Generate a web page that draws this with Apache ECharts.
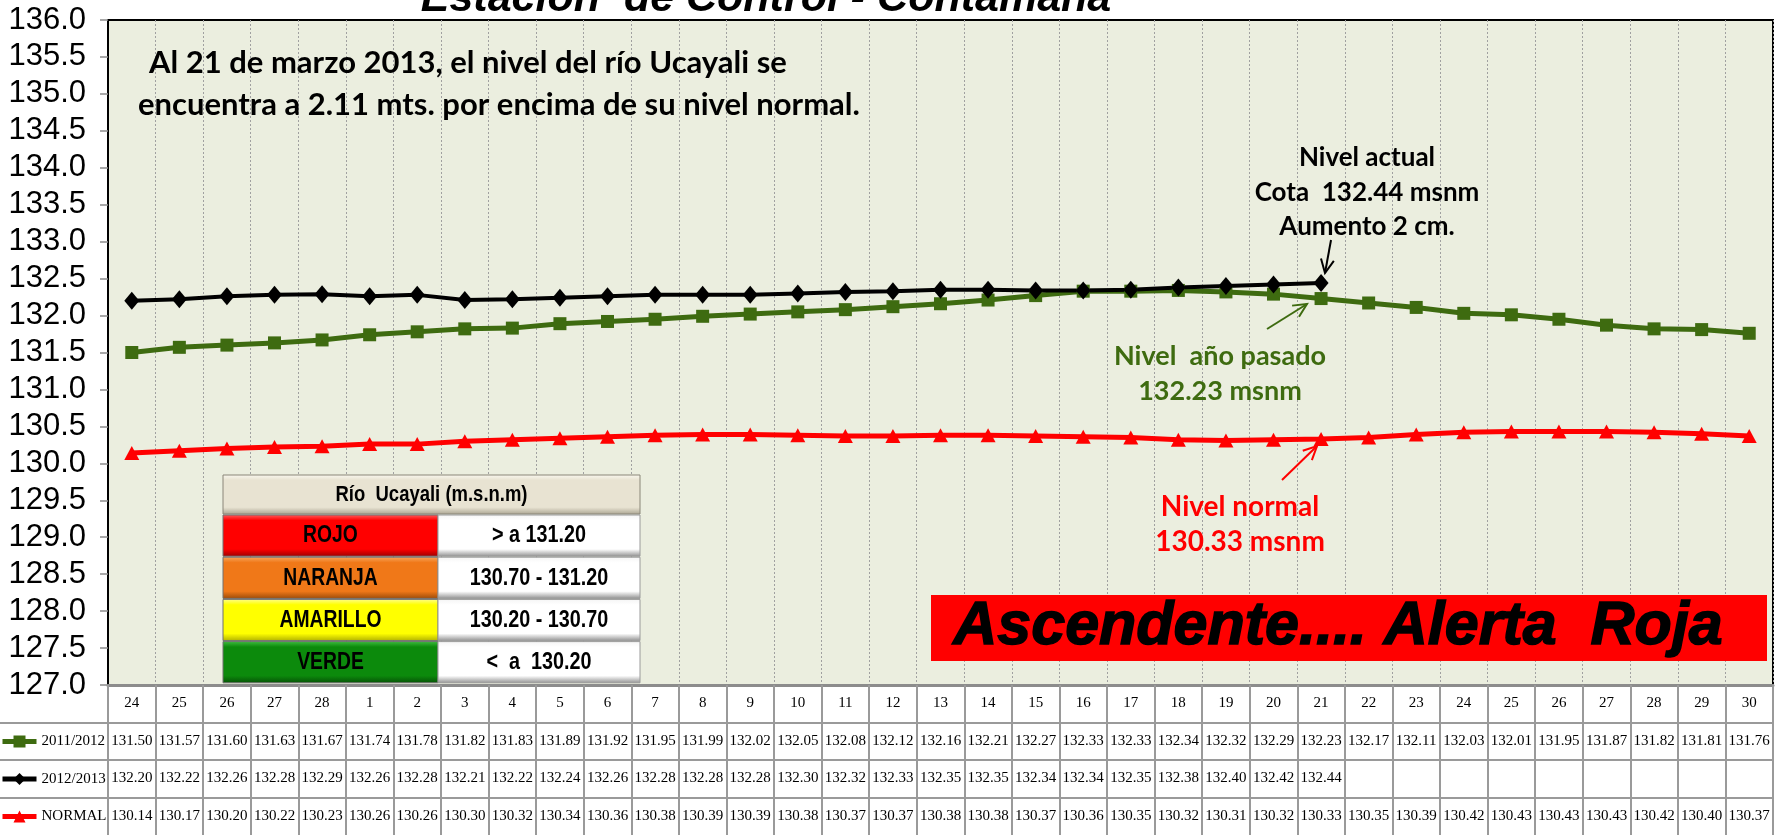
<!DOCTYPE html>
<html>
<head>
<meta charset="utf-8">
<script src="https://cdn.jsdelivr.net/npm/echarts@6/dist/echarts.min.js"></script>
<style>
html, body { margin: 0; padding: 0; background: #fff; }
#chart { width: 1776px; height: 835px; }
</style>
</head>
<body>
<div id="chart"></div>
<script>
// dias (24-28 feb, 1-30 mar)
var days = ['24','25','26','27','28','1','2','3','4','5','6','7','8','9','10','11','12','13','14','15',
            '16','17','18','19','20','21','22','23','24','25','26','27','28','29','30'];

var nivel2012 = [131.50,131.57,131.60,131.63,131.67,131.74,131.78,131.82,131.83,131.89,131.92,131.95,
                 131.99,132.02,132.05,132.08,132.12,132.16,132.21,132.27,132.33,132.33,132.34,132.32,
                 132.29,132.23,132.17,132.11,132.03,132.01,131.95,131.87,131.82,131.81,131.76];

var nivel2013 = [132.20,132.22,132.26,132.28,132.29,132.26,132.28,132.21,132.22,132.24,132.26,132.28,
                 132.28,132.28,132.30,132.32,132.33,132.35,132.35,132.34,132.34,132.35,132.38,132.40,
                 132.42,132.44];

var nivelNormal = [130.14,130.17,130.20,130.22,130.23,130.26,130.26,130.30,130.32,130.34,130.36,130.38,
                   130.39,130.39,130.38,130.37,130.37,130.38,130.38,130.37,130.36,130.35,130.32,130.31,
                   130.32,130.33,130.35,130.39,130.42,130.43,130.43,130.43,130.42,130.40,130.37];

var seriesNames = ['2011/2012', '2012/2013', 'NORMAL'];

var alertLevels = ['ROJO', 'NARANJA', 'AMARILLO', 'VERDE'];
var alertRanges = ['> a 131.20', '130.70 - 131.20', '130.20 - 130.70', '<  a  130.20'];

var greenC = '#3E6B10';
var redC = '#FF0000';
var serif = '"Liberation Serif", "Times New Roman", serif';
var sans = '"Liberation Sans", Arial, sans-serif';
var calibri = 'Lato, "Open Sans", sans-serif';

var chart = echarts.init(document.getElementById('chart'));

// ejes x: dias + una fila de tabla por serie
var xAxes = [{
    type: 'category',
    data: days,
    boundaryGap: true,
    position: 'bottom',
    axisLine: { lineStyle: { color: '#8c8c8c', width: 3 } },
    axisTick: { show: true, interval: 0, length: 150, lineStyle: { color: '#9a9a9a', width: 2 } },
    axisLabel: { interval: 0, margin: 11, fontFamily: serif, fontSize: 15, color: '#000' },
    splitLine: { show: true, interval: 0, lineStyle: { color: '#a0a0a0', type: [2, 2], width: 1 } }
}];
[nivel2012, nivel2013, nivelNormal].forEach(function (arr, k) {
    xAxes.push({
        type: 'category',
        data: days,
        position: 'bottom',
        offset: [38, 75, 113][k],
        axisLine: { lineStyle: { color: '#9a9a9a', width: 2 } },
        axisTick: { show: false },
        axisLabel: {
            interval: 0, margin: 11, fontFamily: serif, fontSize: 15, color: '#000',
            formatter: function (v, i) { return arr[i] == null ? '' : arr[i].toFixed(2); }
        },
        splitLine: { show: false }
    });
});

function arrow(x1, y1, x2, y2, color) {
    var dx = x2 - x1, dy = y2 - y1, len = Math.sqrt(dx * dx + dy * dy);
    var ux = -dx / len, uy = -dy / len, a = 0.45, h = 15;
    var p1 = [x2 + h * (ux * Math.cos(a) - uy * Math.sin(a)), y2 + h * (ux * Math.sin(a) + uy * Math.cos(a))];
    var p2 = [x2 + h * (ux * Math.cos(a) + uy * Math.sin(a)), y2 + h * (-ux * Math.sin(a) + uy * Math.cos(a))];
    return [
        { type: 'line', shape: { x1: x1, y1: y1, x2: x2, y2: y2 }, style: { stroke: color, lineWidth: 2 }, z: 20 },
        { type: 'polyline', shape: { points: [p1, [x2, y2], p2] }, style: { stroke: color, lineWidth: 2, fill: null }, z: 20 }
    ];
}

function label(txt, x, y, size, color, extra) {
    var st = { text: txt, x: 0, y: 0, fill: color, fontSize: size, fontFamily: calibri, fontWeight: 'bold',
               align: 'center', verticalAlign: 'middle' };
    if (extra) for (var k in extra) st[k] = extra[k];
    return { type: 'text', x: x, y: y, style: st, z: 20 };
}

function bevel(base, light, dark) {
    return new echarts.graphic.LinearGradient(0, 0, 0, 1, [
        { offset: 0, color: light }, { offset: 0.14, color: base },
        { offset: 0.82, color: base }, { offset: 1, color: dark }
    ]);
}

// tabla de alertas
var tblX = 223, tblY = 475, headH = 39, rowH = 42.2, leftW = 215, rightW = 202;
var alertFill = [
    bevel('#FF0000', '#FF6060', '#9A0000'),
    bevel('#F07818', '#F8A860', '#9A4A08'),
    bevel('#FFFF00', '#FFFF90', '#B0B000'),
    bevel('#0C8A0C', '#40C040', '#065006')
];
var alertGraphics = [
    { type: 'rect', shape: { x: tblX, y: tblY, width: leftW + rightW, height: headH },
      style: { fill: bevel('#E8E3D2', '#FAF8F0', '#A9A390'), stroke: '#8a8678', lineWidth: 1 }, z: 15 },
    { type: 'text', x: tblX + (leftW + rightW) / 2, y: tblY + headH / 2, scaleX: 0.84,
      style: { text: 'Río  Ucayali (m.s.n.m)', fill: '#000', fontSize: 22, fontFamily: sans, fontWeight: 'bold',
               align: 'center', verticalAlign: 'middle' }, z: 16 }
];
alertLevels.forEach(function (name, i) {
    var y = tblY + headH + 1 + i * rowH;
    alertGraphics.push(
        { type: 'rect', shape: { x: tblX, y: y, width: leftW, height: rowH - 1 },
          style: { fill: alertFill[i], stroke: '#707070', lineWidth: 1 }, z: 15 },
        { type: 'rect', shape: { x: tblX + leftW, y: y, width: rightW, height: rowH - 1 },
          style: { fill: bevel('#FFFFFF', '#F4F4F4', '#8E8E8E'), stroke: '#9a9a9a', lineWidth: 1 }, z: 15 },
        { type: 'text', x: tblX + leftW / 2, y: y + rowH / 2, scaleX: 0.84,
          style: { text: name, fill: '#000', fontSize: 23, fontFamily: sans, fontWeight: 'bold',
                   align: 'center', verticalAlign: 'middle' }, z: 16 },
        { type: 'text', x: tblX + leftW + rightW / 2, y: y + rowH / 2, scaleX: 0.86,
          style: { text: alertRanges[i], fill: '#000', fontSize: 23, fontFamily: sans, fontWeight: 'bold',
                   align: 'center', verticalAlign: 'middle' }, z: 16 }
    );
});

var graphics = [
    { type: 'text', x: 766, y: -1,
      style: { text: 'Estación  de Control - Contamana', fill: '#000', fontSize: 43, fontFamily: sans,
               fontWeight: 'bold', fontStyle: 'italic', align: 'center', verticalAlign: 'middle' }, z: 20 },
    label('Al 21 de marzo 2013, el nivel del río Ucayali se', 149, 63, 31, '#000', { align: 'left' }),
    label('encuentra a 2.11 mts. por encima de su nivel normal.', 138, 105, 31, '#000', { align: 'left' }),
    label('Nivel actual', 1367, 158, 26, '#000'),
    label('Cota  132.44 msnm', 1367, 193, 26, '#000'),
    label('Aumento 2 cm.', 1367, 227, 26, '#000'),
    label('Nivel  año pasado', 1220, 356, 27, greenC),
    label('132.23 msnm', 1220, 391, 27, greenC),
    label('Nivel normal', 1240, 507, 28, redC),
    label('130.33 msnm', 1240, 542, 28, redC),
    { type: 'rect', shape: { x: 931, y: 595, width: 836, height: 66 }, style: { fill: '#FF0000' }, z: 18 },
    { type: 'text', x: 1338, y: 627,
      style: { text: 'Ascendente.... Alerta  Roja', fill: '#000', fontSize: 61, fontFamily: sans,
               fontWeight: 'bold', fontStyle: 'italic', stroke: '#000', lineWidth: 1.5,
               align: 'center', verticalAlign: 'middle' }, z: 19 }
];
graphics = graphics.concat(arrow(1331, 240, 1325, 273, '#000'));
graphics = graphics.concat(arrow(1267, 329, 1307, 304, greenC));
graphics = graphics.concat(arrow(1282, 480, 1317, 446, redC));
graphics = graphics.concat(alertGraphics);
// bordes de la columna de leyenda
[723, 760, 798].forEach(function (y) {
    graphics.push({ type: 'line', shape: { x1: 0, y1: y, x2: 108, y2: y }, style: { stroke: '#9a9a9a', lineWidth: 2 }, z: 5 });
});

var option = {
    animation: false,
    backgroundColor: '#fff',
    grid: {
        left: 108, right: 3, top: 20, bottom: 150,
        show: true, backgroundColor: '#EBEEDF', borderColor: '#000', borderWidth: 2
    },
    legend: {
        data: seriesNames,
        orient: 'vertical',
        left: 0, top: 734,
        itemGap: 22.5, itemWidth: 34, itemHeight: 15,
        padding: 0,
        selectedMode: false,
        lineStyle: { width: 5 },
        textStyle: { fontFamily: serif, fontSize: 15, color: '#000' }
    },
    xAxis: xAxes,
    yAxis: {
        type: 'value', min: 127, max: 136, interval: 0.5,
        axisLine: { show: true, lineStyle: { color: '#000', width: 2 } },
        axisTick: { show: true, length: 8, lineStyle: { color: '#8c8c8c', width: 1.5 } },
        axisLabel: { margin: 22, fontFamily: sans, fontSize: 31, color: '#000',
                     formatter: function (v) { return v.toFixed(1); } },
        splitLine: { show: false }
    },
    series: [
        { name: seriesNames[0], type: 'line', data: nivel2012, symbol: 'rect', symbolSize: 13,
          lineStyle: { color: greenC, width: 5 }, itemStyle: { color: greenC } },
        { name: seriesNames[1], type: 'line', data: nivel2013, symbol: 'diamond', symbolSize: [15, 18],
          lineStyle: { color: '#000', width: 4 }, itemStyle: { color: '#000' } },
        { name: seriesNames[2], type: 'line', data: nivelNormal, symbol: 'triangle', symbolSize: [15, 14],
          lineStyle: { color: redC, width: 5 }, itemStyle: { color: redC } }
    ],
    graphic: graphics
};

chart.setOption(option);
</script>
</body>
</html>
